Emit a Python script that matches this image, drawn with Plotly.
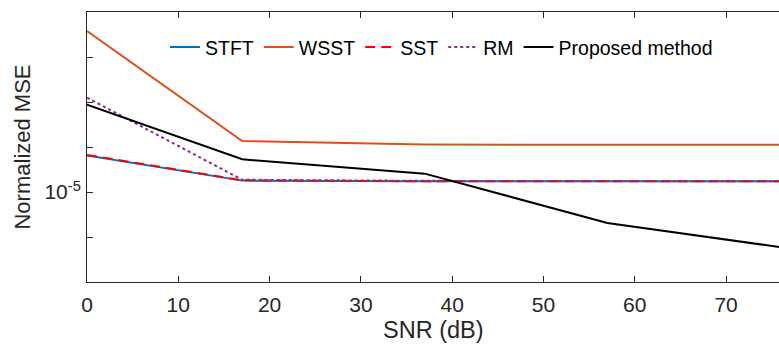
import plotly.graph_objects as go

snr = [0, 17, 37, 57, 77]
stft = [6.44e-5, 1.79e-5, 1.73e-5, 1.73e-5, 1.73e-5]
wsst = [3.78e-2, 1.36e-4, 1.13e-4, 1.12e-4, 1.12e-4]
sst = [6.67e-5, 1.82e-5, 1.73e-5, 1.73e-5, 1.73e-5]
rm = [1.25e-3, 1.87e-5, 1.77e-5, 1.73e-5, 1.73e-5]
proposed = [8.75e-4, 5.33e-5, 2.56e-5, 2.05e-6, 5.55e-7]

x_ticks = [0, 10, 20, 30, 40, 50, 60, 70]
y_major = [1e-5]
y_major_text = ["10<sup>-5</sup>"]
y_minor = [1e-7, 1e-6, 1e-4, 1e-3, 1e-2, 1e-1]

FONT = "Liberation Sans, Arial, sans-serif"
AX = "#262626"

fig = go.Figure()
fig.add_trace(go.Scatter(x=snr, y=stft, mode="lines", name="STFT",
                         line=dict(color="#0072BD", width=2)))
fig.add_trace(go.Scatter(x=snr, y=wsst, mode="lines", name="WSST",
                         line=dict(color="#D95319", width=2)))
fig.add_trace(go.Scatter(x=snr, y=sst, mode="lines", name="SST",
                         line=dict(color="#FF0000", width=2, dash="10px,6px")))
fig.add_trace(go.Scatter(x=snr, y=rm, mode="lines", name="RM",
                         line=dict(color="#7E2F8E", width=2, dash="dot")))
fig.add_trace(go.Scatter(x=snr, y=proposed, mode="lines", name="Proposed method",
                         line=dict(color="#000000", width=2)))

fig.update_layout(
    width=779, height=345,
    margin=dict(l=87, r=0, t=12, b=63),
    paper_bgcolor="white", plot_bgcolor="white",
    font=dict(family=FONT, color=AX),
    showlegend=True,
    legend=dict(orientation="h", x=0.1127, xanchor="left", y=0.869, yanchor="middle",
                bgcolor="rgba(0,0,0,0)", borderwidth=0,
                font=dict(family=FONT, size=19.5, color="#000000")),
    xaxis=dict(range=[0, 75.8], tickvals=x_ticks, ticks="inside", ticklen=6,
               tickcolor=AX, showline=True, linecolor=AX, linewidth=1,
               mirror="ticks", showgrid=False, zeroline=False,
               ticklabelstandoff=4, automargin=False,
               tickfont=dict(size=21, color=AX)),
    yaxis=dict(type="log", range=[-7, -1], tickvals=y_major, ticktext=y_major_text,
               ticks="inside", ticklen=6, tickcolor=AX, showline=True,
               linecolor=AX, linewidth=1, mirror=False, showgrid=False,
               zeroline=False, ticklabelstandoff=1, automargin=False,
               tickfont=dict(size=21, color=AX),
               minor=dict(tickvals=y_minor, ticks="inside", ticklen=6,
                          tickcolor=AX, showgrid=False),
               title=dict(text="Normalized MSE", font=dict(size=22, color=AX), standoff=7)),
    annotations=[dict(text="SNR (dB)", xref="paper", yref="paper", x=0.5, y=-0.178,
                      xanchor="center", yanchor="middle", showarrow=False, borderpad=0,
                      font=dict(family=FONT, size=23.5, color=AX))],
)

fig.write_html("out.html")
